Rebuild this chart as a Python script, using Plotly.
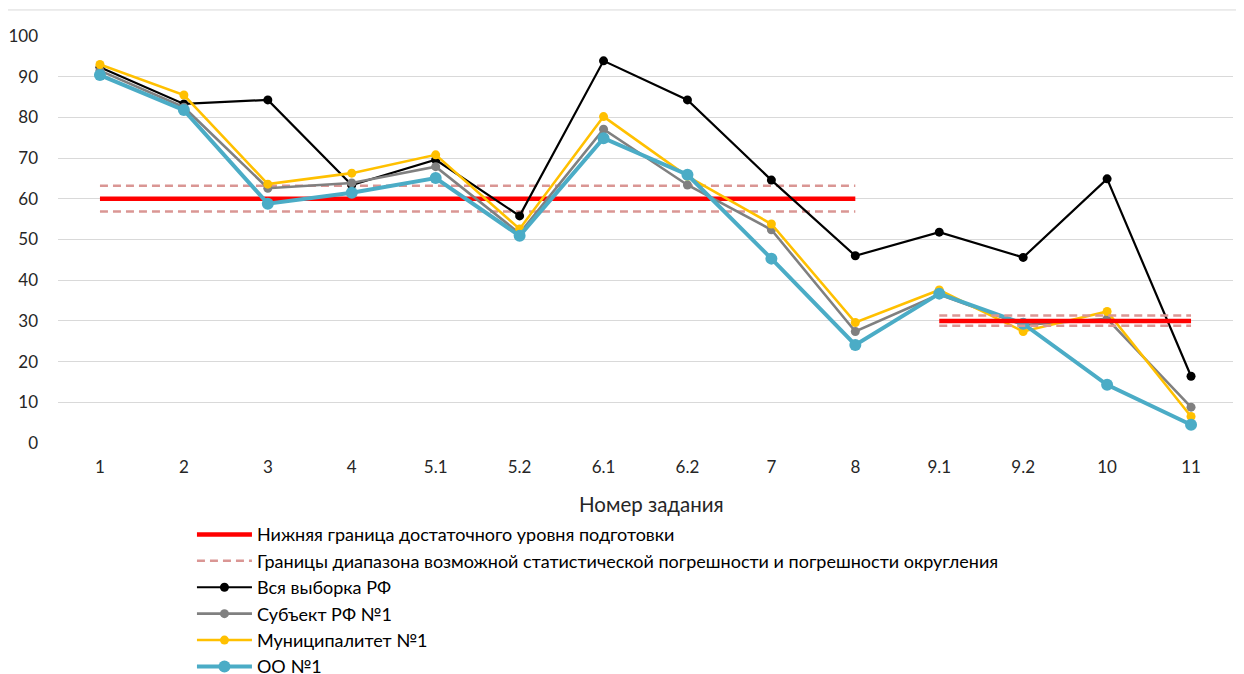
import plotly.graph_objects as go

categories = ["1", "2", "3", "4", "5.1", "5.2", "6.1", "6.2", "7", "8", "9.1", "9.2", "10", "11"]

rf_all = [92.3, 83.3, 84.3, 63.4, 69.6, 55.8, 93.9, 84.3, 64.6, 46.0, 51.8, 45.6, 64.9, 16.4]
subject_1 = [91.5, 82.5, 62.6, 63.9, 67.9, 51.5, 77.1, 63.4, 52.4, 27.4, 36.5, 29.0, 30.5, 8.8]
municip_1 = [93.0, 85.5, 63.6, 66.3, 70.8, 52.6, 80.2, 65.5, 53.8, 29.6, 37.6, 27.4, 32.3, 6.5]
school_1 = [90.4, 81.8, 58.8, 61.5, 65.1, 50.9, 74.9, 65.9, 45.3, 24.1, 36.7, 29.3, 14.3, 4.5]

# threshold segments (first block: tasks 1..8, second block: tasks 9.1..11)
cats_a = ["1", "2", "3", "4", "5.1", "5.2", "6.1", "6.2", "7", "8"]
cats_b = ["9.1", "9.2", "10", "11"]
level_a = [60, 60, 60, 60, 60, 60, 60, 60, 60, 60]
upper_a = [63.2, 63.2, 63.2, 63.2, 63.2, 63.2, 63.2, 63.2, 63.2, 63.2]
lower_a = [56.9, 56.9, 56.9, 56.9, 56.9, 56.9, 56.9, 56.9, 56.9, 56.9]
level_b = [30, 30, 30, 30]
upper_b = [31.3, 31.3, 31.3, 31.3]
lower_b = [28.8, 28.8, 28.8, 28.8]

names = [
    "Нижняя граница достаточного уровня подготовки",
    "Границы диапазона возможной статистической погрешности и погрешности округления",
    "Вся выборка РФ",
    "Субъект РФ №1",
    "Муниципалитет №1",
    "ОО №1",
]

RED = "#FF0000"
PINK = "#DA9694"
FONT = "Lato, Carlito, sans-serif"

fig = go.Figure()

def ref_line(x, y, color, width, dash, name, group, show, rank):
    fig.add_trace(go.Scatter(
        x=x, y=y, mode="lines", name=name, legendgroup=group, showlegend=show,
        legendrank=rank, line=dict(color=color, width=width, dash=dash),
        hoverinfo="skip", cliponaxis=False,
    ))

ref_line(cats_a, level_a, RED, 4.5, "solid", names[0], "g0", True, 1)
ref_line(cats_a, upper_a, PINK, 2.5, "8px,5px", names[1], "g1", True, 2)
ref_line(cats_a, lower_a, PINK, 2.5, "8px,5px", names[1], "g1", False, 2)

series = [
    (rf_all, names[2], "#000000", 2.2, 9, 3),
    (subject_1, names[3], "#808080", 2.6, 9, 4),
    (municip_1, names[4], "#FFC000", 2.6, 9, 5),
    (school_1, names[5], "#4BACC6", 4, 12, 6),
]
for vals, nm, col, w, ms, rank in series:
    fig.add_trace(go.Scatter(
        x=categories, y=vals, mode="lines+markers", name=nm, legendgroup="s" + str(rank),
        legendrank=rank, line=dict(color=col, width=w), marker=dict(color=col, size=ms),
        cliponaxis=False,
    ))

ref_line(cats_b, upper_b, PINK, 2.5, "8px,5px", names[1], "g1", False, 2)
ref_line(cats_b, lower_b, PINK, 2.5, "8px,5px", names[1], "g1", False, 2)
ref_line(cats_b, level_b, RED, 4.5, "solid", names[0], "g0", False, 1)

fig.add_shape(type="line", xref="paper", yref="paper", x0=-0.045, x1=1.01, y0=1.064, y1=1.064,
              line=dict(color="#D9D9D9", width=1))

fig.add_annotation(text="Номер задания", xref="paper", yref="paper", x=0.505, y=-0.15,
                   showarrow=False, font=dict(size=20.5, color="#262626", family=FONT),
                   yanchor="middle")

fig.update_layout(
    width=1236, height=666,
    margin=dict(l=50, r=11, t=28, b=231, autoexpand=False),
    paper_bgcolor="white", plot_bgcolor="white",
    font=dict(family=FONT, size=17, color="#262626"),
    showlegend=True,
    legend=dict(
        orientation="v", x=0.114, y=-0.18, xanchor="left", yanchor="top",
        font=dict(size=18, color="#000000", family=FONT), itemwidth=55, tracegroupgap=0,
        bgcolor="rgba(0,0,0,0)",
    ),
    xaxis=dict(
        type="category", categoryorder="array", categoryarray=categories,
        range=[-0.5, 13.5], showgrid=False, zeroline=False, showline=False,
        ticks="", tickfont=dict(size=17, color="#262626"), ticklabelstandoff=12,
        fixedrange=True, automargin=False,
    ),
    yaxis=dict(
        range=[0, 100], tickvals=[0, 10, 20, 30, 40, 50, 60, 70, 80, 90, 100],
        showgrid=True, gridcolor="#D9D9D9", gridwidth=1, zeroline=False,
        showline=False, ticks="", tickfont=dict(size=17, color="#262626"),
        ticklabelstandoff=19, fixedrange=True, automargin=False,
    ),
)

fig.write_html("out.html")
